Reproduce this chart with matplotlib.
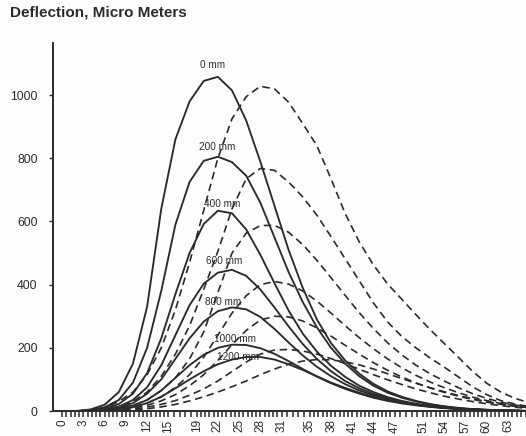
import numpy as np
import matplotlib
matplotlib.use("Agg")
import matplotlib.pyplot as plt

plt.rcParams['font.family'] = ['Liberation Sans', 'DejaVu Sans']

# x positions (time) where the curves were read, step 2
t = list(range(0, 67, 2))

# solid curves: deflection under load, one per offset
s0    = [0, 0, 5, 20, 60, 150, 330, 640, 860, 980, 1045, 1058, 1015, 920, 790, 650, 510, 390, 290, 215, 160, 118, 86, 62, 45, 32, 22, 15, 10, 6, 4, 2, 1, 0]
s200  = [0, 0, 3, 12, 35, 90, 200, 380, 590, 725, 792, 805, 788, 745, 660, 550, 440, 345, 265, 200, 150, 110, 80, 58, 42, 30, 21, 14, 9, 6, 4, 2, 1, 0]
s400  = [0, 0, 2, 8, 22, 55, 120, 230, 370, 500, 592, 634, 626, 575, 495, 405, 318, 245, 188, 143, 108, 80, 60, 44, 32, 23, 16, 11, 7, 5, 3, 2, 1, 0]
s600  = [0, 0, 1, 5, 14, 35, 75, 145, 240, 335, 403, 438, 447, 428, 385, 328, 268, 212, 165, 126, 95, 72, 54, 40, 29, 21, 15, 10, 7, 5, 3, 2, 1, 0]
s800  = [0, 0, 1, 3, 10, 25, 55, 100, 165, 230, 283, 316, 328, 322, 298, 260, 217, 176, 140, 110, 85, 65, 50, 38, 28, 20, 14, 10, 7, 5, 3, 2, 1, 0]
s1000 = [0, 0, 0, 2, 7, 17, 35, 65, 105, 145, 178, 200, 210, 209, 199, 181, 158, 133, 109, 88, 70, 55, 42, 32, 24, 18, 13, 9, 6, 4, 3, 2, 1, 0]
s1200 = [0, 0, 0, 1, 5, 12, 25, 45, 72, 100, 126, 148, 163, 171, 171, 163, 148, 130, 110, 90, 73, 58, 45, 35, 27, 20, 15, 11, 8, 5, 3, 2, 1, 0]

# dashed curves
d1 = [0, 0, 2, 10, 30, 60, 115, 200, 320, 470, 635, 800, 925, 995, 1028, 1020, 978, 910, 840, 735, 625, 535, 462, 402, 354, 305, 258, 214, 170, 126, 88, 60, 40, 26]
d2 = [0, 0, 1, 5, 14, 30, 60, 110, 180, 270, 385, 505, 640, 735, 768, 762, 725, 678, 620, 552, 482, 412, 342, 282, 236, 200, 168, 139, 108, 77, 52, 33, 22, 14]
d3 = [0, 0, 1, 3, 8, 18, 35, 65, 105, 165, 250, 375, 500, 563, 587, 588, 566, 527, 477, 422, 366, 311, 261, 216, 178, 145, 118, 95, 74, 55, 40, 28, 19, 12]
d4 = [0, 0, 0, 2, 6, 13, 25, 45, 75, 115, 170, 240, 310, 365, 400, 410, 402, 380, 348, 310, 270, 232, 197, 165, 137, 113, 92, 74, 58, 44, 33, 24, 17, 11]
d5 = [0, 0, 0, 1, 4, 9, 18, 32, 52, 80, 115, 160, 210, 255, 288, 300, 298, 285, 263, 237, 208, 180, 153, 129, 108, 89, 73, 59, 47, 37, 28, 21, 15, 10]
d6 = [0, 0, 0, 1, 3, 6, 12, 21, 33, 50, 70, 95, 125, 155, 180, 193, 195, 190, 180, 166, 150, 132, 115, 99, 84, 70, 58, 47, 38, 30, 23, 17, 12, 8]
d7 = [0, 0, 0, 0, 1, 3, 7, 13, 21, 32, 45, 60, 77, 95, 115, 133, 148, 158, 163, 162, 156, 146, 133, 118, 103, 88, 74, 61, 49, 39, 30, 22, 16, 11]

solid_curves = [s0, s200, s400, s600, s800, s1000, s1200]
dashed_curves = [d1, d2, d3, d4, d5, d6, d7]

curve_labels = ["0 mm", "200 mm", "400 mm", "600 mm", "800 mm", "1000 mm", "1200 mm"]
label_x = [21.2, 21.9, 22.6, 22.9, 22.8, 24.4, 24.9]
label_y = [1095, 835, 655, 475, 345, 228, 171]

xtick_vals = [0, 3, 6, 9, 12, 15, 19, 22, 25, 28, 31, 35, 38, 41, 44, 47, 51, 54, 57, 60, 63]
ytick_vals = [0, 200, 400, 600, 800, 1000]

ink = "#2b2b2b"

fig = plt.figure(figsize=(5.26, 4.36), dpi=100)
fig.patch.set_facecolor("#fefefc")
ax = fig.add_axes([0.1008, 0.0573, 0.8992, 0.844])
ax.set_facecolor("#fefefc")

for ys in solid_curves:
    ax.plot(t, ys, color=ink, lw=1.35, solid_joinstyle="round", solid_capstyle="round")
for ys in dashed_curves:
    ax.plot(t, ys, color=ink, lw=1.2, dashes=(4.5, 2.8), dash_joinstyle="round")

for lab, lx, ly in zip(curve_labels, label_x, label_y):
    ax.text(lx, ly, lab, fontsize=7.2, color=ink, ha="center", va="center")

ax.set_xlim(-1.3, 65.3)
ax.set_ylim(0, 1165)

ax.set_xticks(xtick_vals)
ax.set_xticklabels([str(v) for v in xtick_vals], rotation=90, fontsize=8.5, color=ink)
minor = []
for a, b in zip(xtick_vals[:-1], xtick_vals[1:]):
    minor += list(np.linspace(a, b, 6)[1:-1])
minor += list(np.arange(63, 66, 0.64)[1:])
ax.set_xticks(minor, minor=True)
ax.tick_params(axis="x", which="both", direction="out", length=4, width=1.1, color=ink, pad=2)

ax.set_yticks(ytick_vals)
ax.set_yticklabels([str(v) for v in ytick_vals], fontsize=8.8, color=ink)
ax.tick_params(axis="y", direction="out", length=3, width=1, color=ink, pad=8)

for side in ["top", "right"]:
    ax.spines[side].set_visible(False)
for side in ["left", "bottom"]:
    ax.spines[side].set_color(ink)
    ax.spines[side].set_linewidth(1.4)

fig.text(0.019, 0.972, "Deflection, Micro Meters", fontsize=11, fontweight="bold",
         color=ink, ha="left", va="center")

fig.savefig("out.png", dpi=100, facecolor=fig.get_facecolor())
